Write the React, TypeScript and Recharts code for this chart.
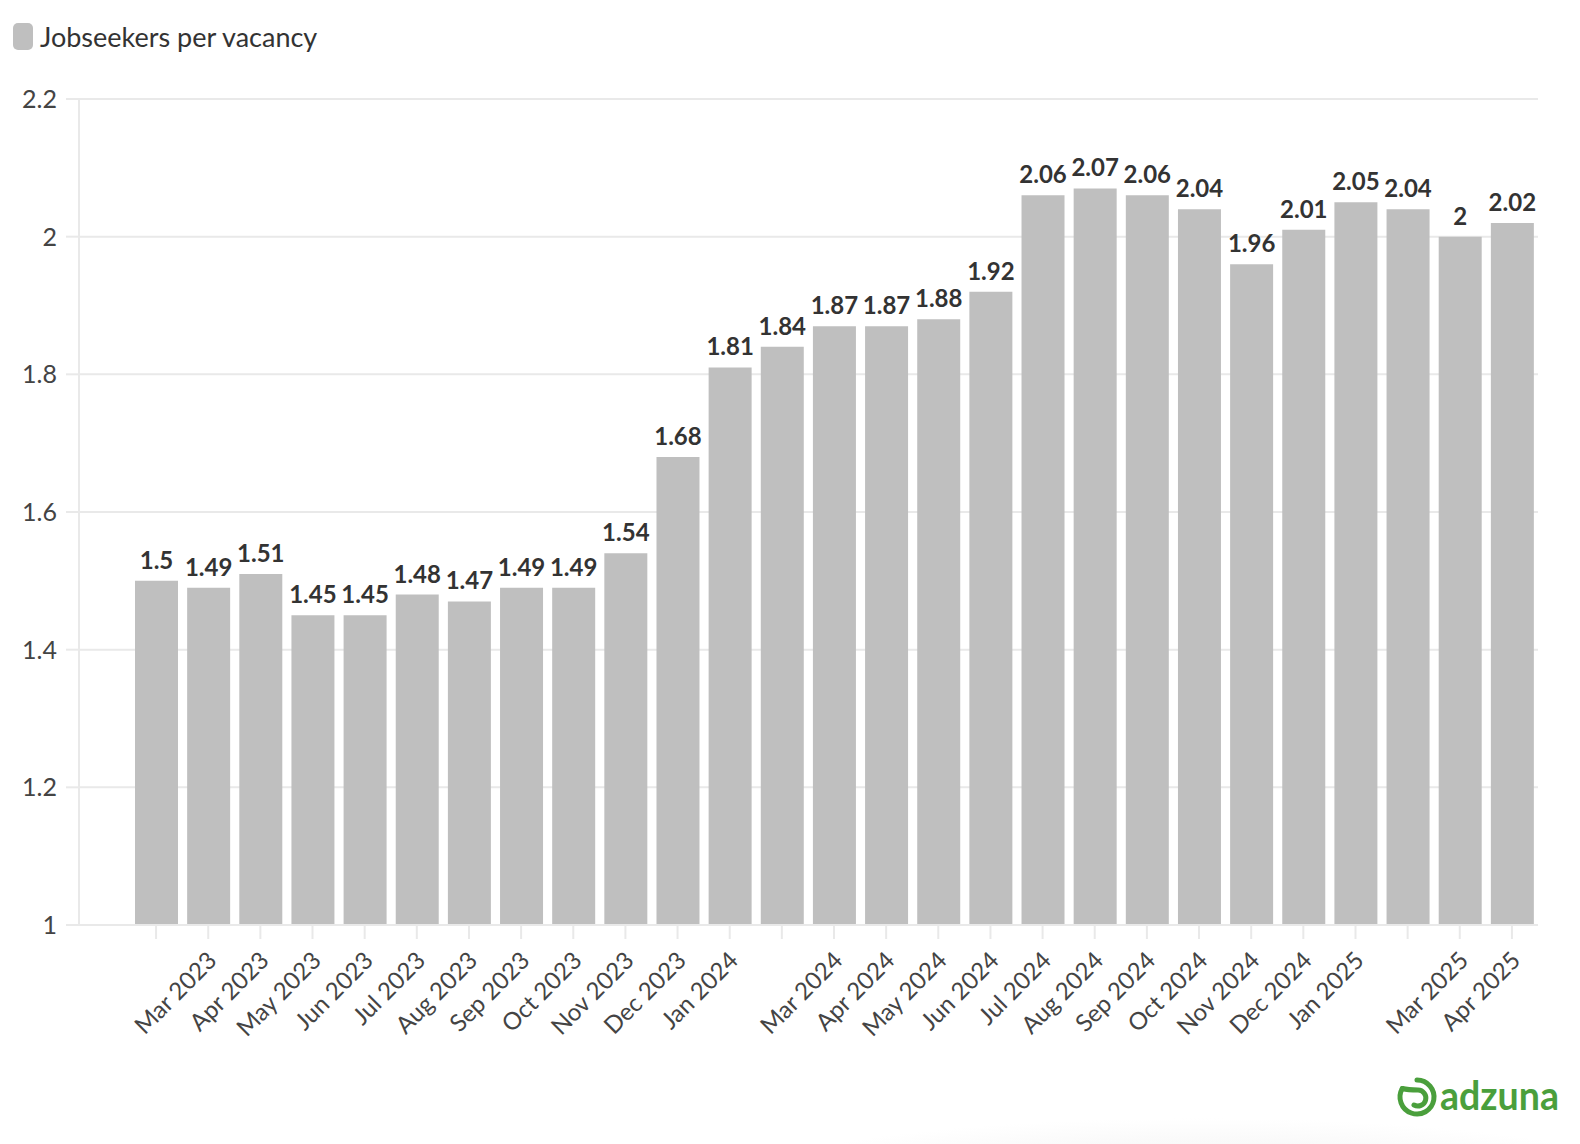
import React from 'react'
import { BarChart, Bar, XAxis, YAxis, CartesianGrid, LabelList } from 'recharts'

const BAR = '#bfbfbf', LINE = '#e9e9e9', TXT = '#444', DARK = '#333', GREEN = '#4a9f3c'
const FONT = 'Lato, "Noto Sans", sans-serif'

// one bar per month, Feb 2023 .. Apr 2025
const months = [
  'Feb 2023','Mar 2023','Apr 2023','May 2023','Jun 2023','Jul 2023','Aug 2023','Sep 2023','Oct 2023','Nov 2023','Dec 2023','Jan 2024',
  'Feb 2024','Mar 2024','Apr 2024','May 2024','Jun 2024','Jul 2024','Aug 2024','Sep 2024','Oct 2024','Nov 2024','Dec 2024','Jan 2025',
  'Feb 2025','Mar 2025','Apr 2025',
]
const jobseekers = [
  1.5,1.49,1.51,1.45,1.45,1.48,1.47,1.49,1.49,1.54,1.68,1.81,
  1.84,1.87,1.87,1.88,1.92,2.06,2.07,2.06,2.04,1.96,2.01,2.05,
  2.04,2,2.02,
]
// labels the axis actually prints (the Feb ones are skipped)
const tickLabels = [
  'Mar 2023','Apr 2023','May 2023','Jun 2023','Jul 2023','Aug 2023','Sep 2023','Oct 2023','Nov 2023','Dec 2023','Jan 2024',
  'Mar 2024','Apr 2024','May 2024','Jun 2024','Jul 2024','Aug 2024','Sep 2024','Oct 2024','Nov 2024','Dec 2024','Jan 2025',
  'Mar 2025','Apr 2025',
]
const yTicks = [1, 1.2, 1.4, 1.6, 1.8, 2, 2.2]

const data = months.map((m, i) => ({ month: m, value: jobseekers[i] }))

const MonthTick = ({ x, y, payload }: any) => {
  const label = tickLabels.includes(payload.value) ? payload.value : ''
  const ax = x + 10, ay = y + 21
  return (
    <text x={ax} y={ay} transform={`rotate(-45 ${ax} ${ay})`} textAnchor="end" fontSize={24} fill={TXT} fontFamily={FONT}>
      {label}
    </text>
  )
}

// adzuna mark: spiral + wordmark
const Logo = () => (
  <svg width={190} height={70} style={{ position: 'absolute', left: 1390, top: 1064 }}>
    <g fill="none" stroke={GREEN} strokeWidth={5} strokeLinecap="round">
      <path d="M27 16 A17 17 0 1 1 12.3 24.5" />
      <path d="M12.3 24.5 Q18 26 28 26 A8 8 0 1 1 24 41" />
    </g>
    <text x={50} y={46} fontSize={40} fontWeight={700} fill={GREEN} fontFamily={FONT} textLength={119} lengthAdjust="spacingAndGlyphs">adzuna</text>
  </svg>
)

export default function App() {
  return (
    <div style={{ position: 'relative', width: 1580, height: 1144, background: '#fff', fontFamily: FONT, overflow: 'hidden' }}>
      <style>{`body{margin:0}`}</style>

      {/* faint shadow along the bottom edge */}
      <div style={{ position: 'absolute', left: 700, top: 1070, width: 1000, height: 160,
        background: 'radial-gradient(ellipse 50% 50% at 50% 80%, #ececec 0%, rgba(255,255,255,0) 100%)' }} />

      {/* legend */}
      <div style={{ position: 'absolute', left: 13, top: 23, display: 'flex', alignItems: 'center', gap: 7 }}>
        <div style={{ width: 20, height: 27, borderRadius: 5, background: BAR }} />
        <span style={{ fontSize: 27, color: DARK, lineHeight: '27px' }}>Jobseekers per vacancy</span>
      </div>

      <div style={{ position: 'absolute', left: 0, top: 0 }}>
        <BarChart width={1580} height={1144} data={data} margin={{ top: 99, right: 42, left: 19, bottom: 99 }}>
          <CartesianGrid vertical={false} stroke={LINE} strokeWidth={2} />
          <XAxis dataKey="month" interval={0} height={120} padding={{ left: 51, right: 0 }}
            axisLine={{ stroke: LINE, strokeWidth: 2 }} tickLine={{ stroke: LINE, strokeWidth: 2 }} tickSize={14}
            tick={<MonthTick />} />
          <YAxis domain={[1, 2.2]} ticks={yTicks} width={60} interval={0}
            axisLine={{ stroke: LINE, strokeWidth: 2 }} tickLine={{ stroke: LINE, strokeWidth: 2 }} tickSize={13} tickMargin={9}
            tickFormatter={(v: number) => String(v)}
            tick={{ fontSize: 25, fill: TXT, fontFamily: FONT }} />
          <Bar dataKey="value" fill={BAR} barSize={43} isAnimationActive={false}>
            <LabelList dataKey="value" position="top" offset={12}
              style={{ fontSize: 24, fontWeight: 700, fill: DARK, fontFamily: FONT }} />
          </Bar>
        </BarChart>
      </div>

      <Logo />
    </div>
  )
}
